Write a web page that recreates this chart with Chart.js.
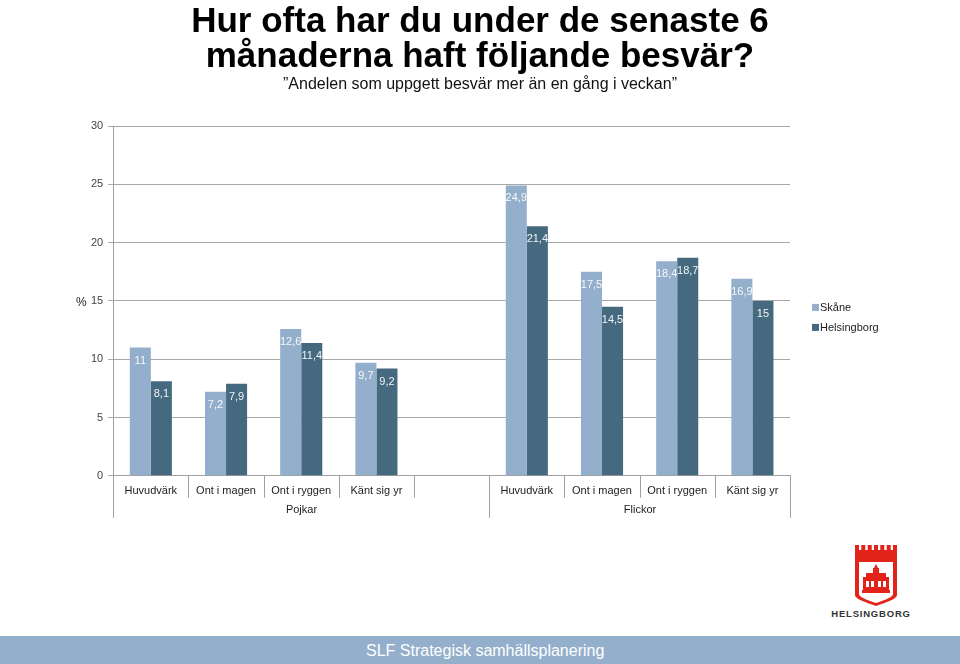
<!DOCTYPE html>
<html>
<head>
<meta charset="utf-8">
<script src="https://cdn.jsdelivr.net/npm/chart.js@4/dist/chart.umd.min.js"></script>
<style>
  html, body { margin: 0; padding: 0; background: #fff; }
  body { width: 960px; height: 664px; position: relative; overflow: hidden; font-family: "Liberation Sans", Arial, sans-serif; }
  #wrap { position: absolute; left: 0; top: 0; width: 960px; height: 540px; }
  #title { position: absolute; left: 0; top: 2px; width: 960px; text-align: center; font-size: 35px; line-height: 35px; font-weight: bold; color: #000; }
  #subtitle { position: absolute; left: 0; top: 75px; width: 960px; text-align: center; font-size: 16px; line-height: 18px; color: #111; }
  #logo { position: absolute; left: 826px; top: 543px; width: 90px; height: 80px; }
  #footer { position: absolute; left: 0; top: 636px; width: 960px; height: 28px; background: #93afcb; }
  #footer span { position: absolute; left: 366px; top: 6px; color: #fff; font-size: 16px; }
</style>
</head>
<body>
<div id="wrap"><canvas id="chart"></canvas></div>
<div id="title">Hur ofta har du under de senaste 6<br>månaderna haft följande besvär?</div>
<div id="subtitle">”Andelen som uppgett besvär mer än en gång i veckan”</div>

<svg id="logo" viewBox="0 0 90 80">
  <g fill="#e2231a">
    <rect x="29" y="2" width="4" height="6"/>
    <rect x="35.3" y="2" width="4" height="6"/>
    <rect x="41.7" y="2" width="4" height="6"/>
    <rect x="48" y="2" width="4" height="6"/>
    <rect x="54.3" y="2" width="4" height="6"/>
    <rect x="60.7" y="2" width="4" height="6"/>
    <rect x="67" y="2" width="4" height="6"/>
    <rect x="29" y="7" width="42" height="10"/>
    <path d="M29 16h42v36c0 4-10 7-21 11c-11-4-21-7-21-11z"/>
  </g>
  <path d="M33 19h34v32c0 3-8 6-17 9c-9-3-17-6-17-9z" fill="#fff"/>
  <path d="M50 21l2 4h-4z M47 25h6v5h-6z M40 30h20v4h-20z M37 34h26v13h-26z M36 47h28v3h-28z" fill="#e2231a"/>
  <path d="M40 38h3v6h-3z M45 38h3v6h-3z M52 38h3v6h-3z M57 38h3v6h-3z" fill="#fff"/>
  <text x="45" y="74" text-anchor="middle" font-family="Liberation Sans, Arial" font-weight="bold" font-size="9.5" letter-spacing="0.8" fill="#333">HELSINGBORG</text>
</svg>

<div id="footer"><span>SLF Strategisk samhällsplanering</span></div>

<script>
const categories = ["Huvudvärk", "Ont i magen", "Ont i ryggen", "Känt sig yr", "", "Huvudvärk", "Ont i magen", "Ont i ryggen", "Känt sig yr"]
const groups = [
  { name: "Pojkar", from: 0, to: 4 },
  { name: "Flickor", from: 5, to: 8 },
]
const skane = [11, 7.2, 12.6, 9.7, null, 24.9, 17.5, 18.4, 16.9]
const helsingborg = [8.1, 7.9, 11.4, 9.2, null, 21.4, 14.5, 18.7, 15]
const yTicks = [0, 5, 10, 15, 20, 25, 30]

const FONT = "'Liberation Sans', Arial, sans-serif"
const LINE = "#a0a0a0"

// numbers inside the bars, category/group dividers, legend and the % sign
const extras = {
  id: "extras",
  afterDatasetsDraw(chart) {
    const ctx = chart.ctx
    ctx.save()
    ctx.font = "11px " + FONT
    ctx.fillStyle = "rgba(255,255,255,0.92)"
    ctx.textAlign = "center"
    ctx.textBaseline = "middle"
    chart.data.datasets.forEach((ds, i) => {
      chart.getDatasetMeta(i).data.forEach((bar, j) => {
        const v = ds.data[j]
        if (v == null) return
        ctx.fillText(String(v).replace(".", ","), bar.x, bar.y + 13)
      })
    })
    ctx.restore()
  },
  afterDraw(chart) {
    const ctx = chart.ctx
    const x = chart.scales.x
    const y = chart.scales.y
    const w = x.width / categories.length
    const edge = i => Math.round(x.getPixelForValue(i) - w / 2) + 0.5
    ctx.save()
    ctx.strokeStyle = LINE
    ctx.lineWidth = 1
    for (let i = 0; i <= categories.length; i++) {
      const long = groups.some(g => g.from === i || g.to + 1 === i)
      ctx.beginPath()
      ctx.moveTo(edge(i), y.bottom)
      ctx.lineTo(edge(i), y.bottom + (long ? 42 : 22))
      ctx.stroke()
    }
    ctx.font = "11px " + FONT
    ctx.fillStyle = "#222"
    ctx.textAlign = "center"
    ctx.textBaseline = "middle"
    groups.forEach(g => {
      const cx = (edge(g.from) + edge(g.to + 1)) / 2
      ctx.fillText(g.name, cx, y.bottom + 34)
    })
    ctx.font = "12px " + FONT
    ctx.fillText("%", x.left - 32, y.getPixelForValue(15) + 2)

    // legend
    ctx.textAlign = "left"
    ctx.font = "11px " + FONT
    const mid = (y.top + y.bottom) / 2
    chart.data.datasets.forEach((ds, i) => {
      const cy = mid + 7 + i * 20
      ctx.fillStyle = ds.backgroundColor
      ctx.fillRect(x.right + 22, cy - 4, 7, 7)
      ctx.fillStyle = "#222"
      ctx.fillText(ds.label, x.right + 30, cy)
    })
    ctx.restore()
  },
}

new Chart(document.getElementById("chart"), {
  type: "bar",
  data: {
    labels: categories,
    datasets: [
      { label: "Skåne", data: skane, backgroundColor: "#93afcb" },
      { label: "Helsingborg", data: helsingborg, backgroundColor: "#456a80" },
    ],
  },
  options: {
    responsive: true,
    maintainAspectRatio: false,
    animation: false,
    categoryPercentage: 0.56,
    barPercentage: 1,
    layout: {
      padding: { left: 86, right: 170, top: 126, bottom: 41 },
    },
    scales: {
      x: {
        grid: { display: false },
        border: { color: LINE },
        ticks: { color: "#222", font: { size: 11, family: FONT }, padding: 1, maxRotation: 0, autoSkip: false },
      },
      y: {
        min: 0,
        max: 30,
        afterBuildTicks: scale => { scale.ticks = yTicks.map(v => ({ value: v })) },
        grid: { color: "#a8a8a8", tickLength: 5 },
        border: { color: LINE },
        ticks: { color: "#444", font: { size: 11, family: FONT }, padding: 5 },
      },
    },
    plugins: {
      legend: { display: false },
      tooltip: { enabled: false },
    },
  },
  plugins: [extras],
})
</script>
</body>
</html>
